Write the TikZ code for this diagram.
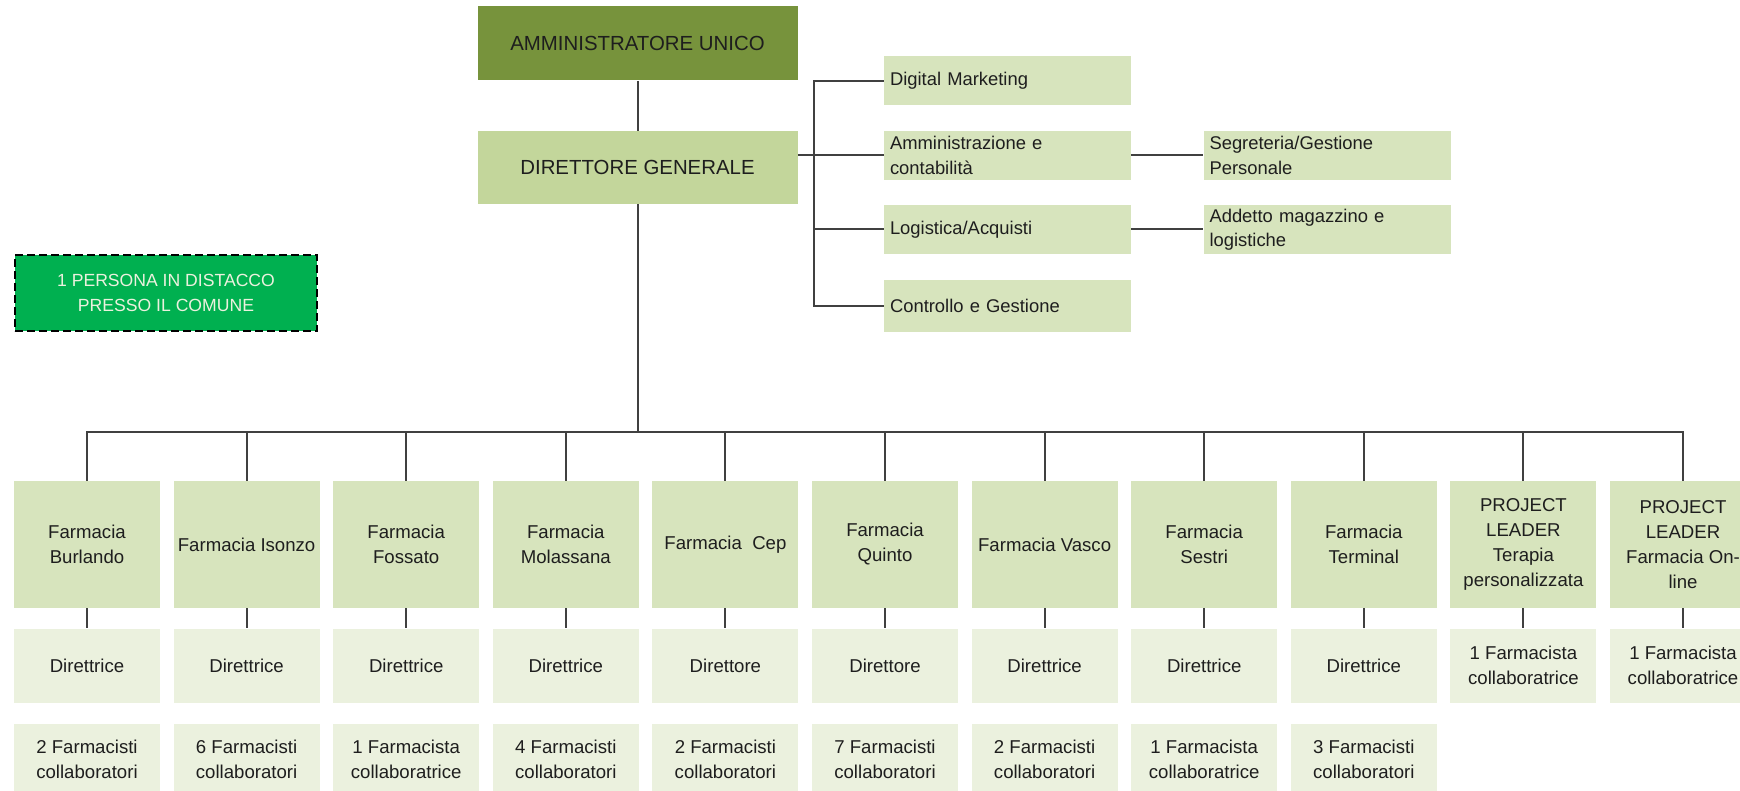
\documentclass[tikz,border=0pt]{standalone}
\usepackage{fontspec}
\setmainfont{Liberation Sans}
\usepackage{xcolor}
\usetikzlibrary{positioning}
\definecolor{topgreen}{HTML}{77933C}
\definecolor{midgreen}{HTML}{C3D69B}
\definecolor{lightgreen}{HTML}{D7E4BD}
\definecolor{palegreen}{HTML}{EBF1DE}
\definecolor{distgreen}{HTML}{00B050}
\definecolor{linegray}{HTML}{404040}
\definecolor{textgray}{HTML}{1E1E1E}

\begin{document}
\begin{tikzpicture}[
    x=0.5pt, y=-0.5pt,
    head/.style={fill=#1, minimum width=160pt, minimum height=36.5pt, text=textgray, font=\fontsize{10.2}{12}\selectfont},
    dept/.style={fill=lightgreen, minimum width=123.5pt, minimum height=24.5pt, text width=117.5pt, inner xsep=3pt, inner ysep=1pt, align=left, text=textgray, font=\fontsize{9.2}{12.2}\selectfont},
    unit/.style={fill=#1, minimum width=73pt, inner sep=1pt, align=center, text=textgray, font=\fontsize{9.3}{12.5}\selectfont},
    link/.style={draw=linegray, line width=1pt},
]
\useasboundingbox (0,0) rectangle (1740,791);

% Top
\node[head=topgreen, minimum height=37pt] (au) at (637.5,43.5) {AMMINISTRATORE UNICO};
\node[head=midgreen] (dg) at (637.5,167.5) {DIRETTORE GENERALE};

% Staff
\node[dept] (dm) at (1007.5,81) {Digital Marketing};
\node[dept] (ac) at (1007.5,155.5) {Amministrazione e\\contabilità};
\node[dept] (la) at (1007.5,229.5) {Logistica/Acquisti};
\node[dept, minimum height=26pt] (cg) at (1007.5,306) {Controllo e Gestione};
\node[dept] (sp) at (1327,155.5) {Segreteria/Gestione\\Personale};
\node[dept] (am) at (1327,229.5) {Addetto magazzino e\\logistiche};

\node[fill=distgreen, draw=black, dashed, dash pattern=on 4pt off 2pt, line width=1.3pt,
      minimum width=151pt, minimum height=38pt, align=center, text=palegreen,
      font=\fontsize{8.8}{12.8}\selectfont] (dist) at (166,293) {1 PERSONA IN DISTACCO\\PRESSO IL COMUNE};

% Farmacie
\foreach \name [count=\i] in {{Farmacia\\Burlando}, {Farmacia Isonzo}, {Farmacia\\Fossato},
    {Farmacia\\Molassana}, {Farmacia\ \ Cep}, {Farmacia\\Quinto}, {Farmacia Vasco},
    {Farmacia\\Sestri}, {Farmacia\\Terminal}, {PROJECT\\LEADER\\Terapia\\personalizzata},
    {PROJECT\\LEADER\\Farmacia On-\\line}}
  \node[unit=lightgreen, minimum height=63.5pt] (f\i) at ({87+159.6*(\i-1)},544.5) {\name};

\foreach \name [count=\i] in {Direttrice, Direttrice, Direttrice, Direttrice, Direttore,
    Direttore, Direttrice, Direttrice, Direttrice, {1 Farmacista\\collaboratrice},
    {1 Farmacista\\collaboratrice}}
  \node[unit=palegreen, minimum height=37pt, below=10pt of f\i] (d\i) {\name};

\foreach \name [count=\i] in {{2 Farmacisti\\collaboratori}, {6 Farmacisti\\collaboratori},
    {1 Farmacista\\collaboratrice}, {4 Farmacisti\\collaboratori}, {2 Farmacisti\\collaboratori},
    {7 Farmacisti\\collaboratori}, {2 Farmacisti\\collaboratori}, {1 Farmacista\\collaboratrice},
    {3 Farmacisti\\collaboratori}}
  \node[unit=palegreen, minimum height=36pt, below=10pt of d\i] (c\i) {\name};

% Lines
\coordinate (brk) at (814,0);
\coordinate (bus) at (637.5,432);
\draw[link] (au) -- (dg);
\draw[link] (dm.west) -- (dm.west -| brk) -- (cg.west -| brk) -- (cg.west);
\draw[link] (la.west -| brk) -- (la.west);
\draw[link] (ac.west -| dg.east) -- (ac.west);
\draw[link] (ac) -- (sp);
\draw[link] (la) -- (am);
\foreach \i in {1,...,11} {
  \draw[link] (dg.south) -- (bus) -| (f\i.north);
  \draw[link] (f\i) -- (d\i);
}

\end{tikzpicture}
\end{document}
